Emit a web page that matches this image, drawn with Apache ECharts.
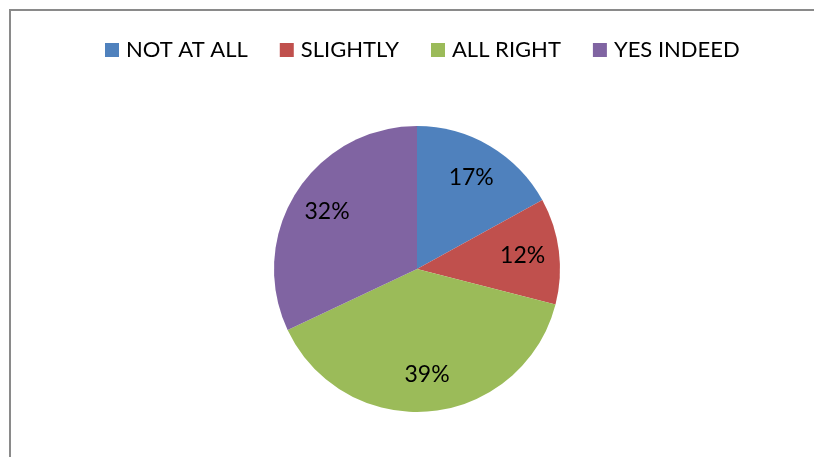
<!DOCTYPE html>
<html lang="en">
<head>
    <meta charset="UTF-8">
    <title>Pie</title>
    <style>
        html, body { margin: 0; padding: 0; background: #fff; }
        #main { width: 814px; height: 457px; }
    </style>
</head>
<body>
    <div id="main"></div>
    <script src="https://cdn.jsdelivr.net/npm/echarts@6/dist/echarts.min.js"></script>
    <script>
        // data
        var categories = ['NOT AT ALL', 'SLIGHTLY', 'ALL RIGHT', 'YES INDEED']
        var values = [17, 12, 39, 32]
        var colors = ['#4F81BD', '#C0504D', '#9BBB59', '#8064A2']

        var pieData = categories.map(function (name, i) {
            return { name: name, value: values[i], itemStyle: { color: colors[i] } }
        })

        var myChart = echarts.init(document.getElementById('main'))
        var option = {
            animation: false,
            graphic: [
                // chart frame (only left and top edges visible)
                {
                    type: 'polyline',
                    shape: { points: [[10, 460], [10, 10], [820, 10]] },
                    style: { stroke: '#8a8a8a', lineWidth: 2, fill: null }
                }
            ],
            legend: {
                top: 34,
                left: 100,
                itemWidth: 14,
                itemHeight: 14,
                itemGap: 32,
                icon: 'rect',
                textStyle: { fontFamily: 'Lato', fontSize: 22, color: '#000', padding: [0, 0, 0, 2] },
                data: categories
            },
            series: [
                {
                    type: 'pie',
                    center: [417, 269],
                    radius: [0, 143],
                    startAngle: 90,
                    clockwise: true,
                    label: { show: false },
                    labelLine: { show: false },
                    emphasis: { disabled: true },
                    data: pieData
                },
                {
                    // transparent ring only to place the % labels further out
                    type: 'pie',
                    center: [417, 269],
                    radius: [64, 143],
                    startAngle: 90,
                    clockwise: true,
                    silent: true,
                    itemStyle: { color: 'rgba(0,0,0,0)' },
                    label: {
                        show: true,
                        position: 'inside',
                        formatter: '{d}%',
                        fontFamily: 'Lato',
                        fontSize: 23,
                        color: '#000'
                    },
                    labelLine: { show: false },
                    emphasis: { disabled: true },
                    data: categories.map(function (name, i) {
                        return { name: name, value: values[i] }
                    })
                }
            ]
        }
        myChart.setOption(option)
    </script>
</body>
</html>
